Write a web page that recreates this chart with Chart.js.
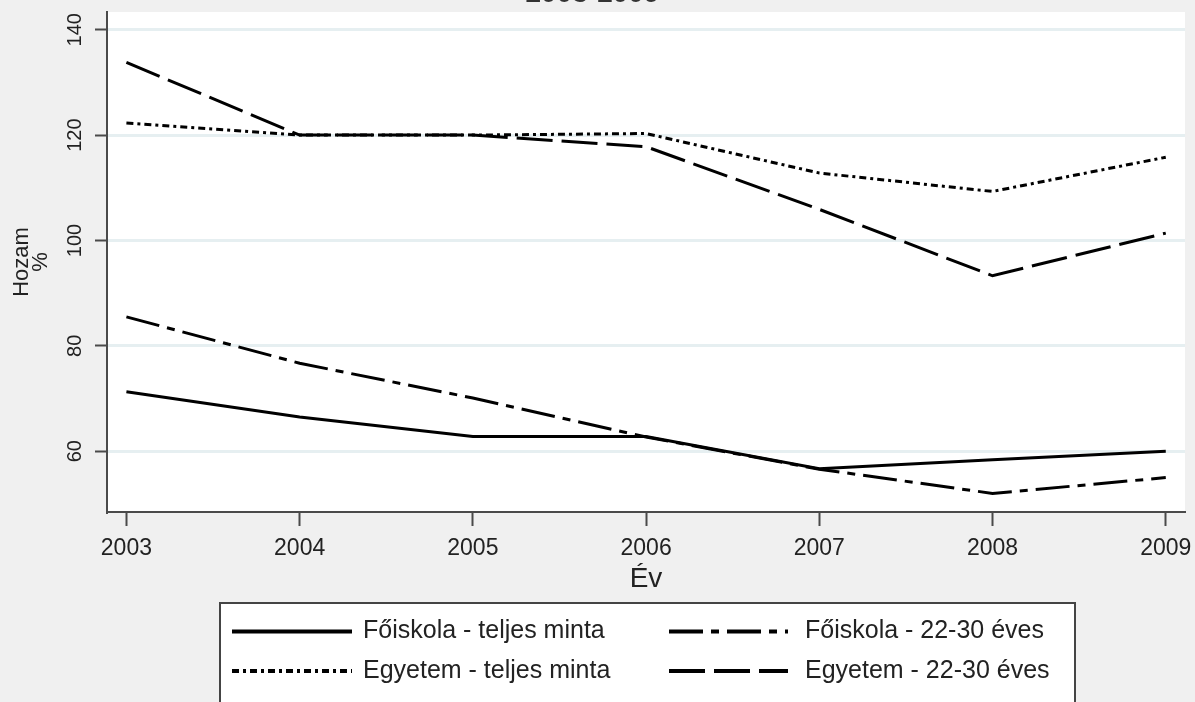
<!DOCTYPE html>
<html><head><meta charset="utf-8">
<script src="https://cdn.jsdelivr.net/npm/chart.js@4.4.1/dist/chart.umd.min.js"></script>
<style>
html,body{margin:0;padding:0;background:#f0f0f0;overflow:hidden;width:1195px;height:702px;}
#wrap{position:absolute;left:0;top:-24px;width:1195px;height:750px;}
</style></head><body>
<div id="wrap"><canvas id="c" width="1195" height="750"></canvas></div>
<script>
const titleText = '2003-2009';
const xTitle = 'Év';
const yTitle = ['Hozam', '%'];
const years = [2003, 2004, 2005, 2006, 2007, 2008, 2009];
const yTicks = [60, 80, 100, 120, 140];
const seriesNames = ['Főiskola - teljes minta', 'Főiskola - 22-30 éves', 'Egyetem - teljes minta', 'Egyetem - 22-30 éves'];
const foiskolaTeljes = [71.3, 66.5, 62.8, 62.8, 56.7, 58.4, 60.0];
const foiskola2230   = [85.5, 76.7, 70.1, 62.7, 56.6, 52.0, 55.0];
const egyetemTeljes  = [122.3, 120.0, 120.0, 120.3, 112.8, 109.3, 115.8];
const egyetem2230    = [133.8, 120.0, 120.0, 117.8, 105.9, 93.3, 101.4];

const seriesValues = [foiskolaTeljes, foiskola2230, egyetemTeljes, egyetem2230];
const dashes = [[], [34, 8, 8, 8], [7, 4, 3, 4], [36, 9]];

const FONT = "'Liberation Sans', Arial, sans-serif";

const plotBg = {
  id: 'plotBg',
  beforeDraw(chart) {
    const {ctx, chartArea: a} = chart;
    ctx.save();
    ctx.fillStyle = '#ffffff';
    ctx.fillRect(a.left, a.top, a.right - a.left, a.bottom - a.top);
    ctx.restore();
  }
};

const boxLegend = {
  id: 'boxLegend',
  afterDraw(chart) {
    const ctx = chart.ctx;
    const top = 627, left = 220, right = 1075, bottom = 760;
    ctx.save();
    ctx.fillStyle = '#ffffff';
    ctx.fillRect(left, top, right - left, bottom - top);
    ctx.strokeStyle = '#444';
    ctx.lineWidth = 2;
    ctx.strokeRect(left, top, right - left, bottom - top);
    const rows = [655.5, 695];
    const sx = [[232, 352], [669, 788]];
    const tx = [363, 805];
    chart.data.datasets.forEach((ds, i) => {
      const col = i % 2, row = Math.floor(i / 2);
      const y = rows[row];
      ctx.beginPath();
      ctx.setLineDash(ds.borderDash || []);
      ctx.lineWidth = 4;
      ctx.strokeStyle = '#000';
      ctx.moveTo(sx[col][0], y);
      ctx.lineTo(sx[col][1], y);
      ctx.stroke();
      ctx.setLineDash([]);
      ctx.fillStyle = '#222';
      ctx.font = '25px ' + FONT;
      ctx.textBaseline = 'middle';
      ctx.textAlign = 'left';
      ctx.fillText(ds.label, tx[col], y);
    });
    ctx.restore();
  }
};

const datasets = seriesNames.map((name, i) => ({
  label: name,
  data: years.map((yr, j) => ({x: yr, y: seriesValues[i][j]})),
  borderColor: '#000',
  borderWidth: 3,
  borderDash: dashes[i],
  pointRadius: 0,
  tension: 0,
  fill: false
}));

new Chart(document.getElementById('c'), {
  type: 'line',
  data: {datasets},
  options: {
    responsive: false,
    animation: false,
    layout: {padding: {top: 0, left: 0, right: 10, bottom: 130}},
    plugins: {
      legend: {display: false},
      tooltip: {enabled: false},
      title: {
        display: true, text: titleText, color: '#333',
        font: {family: FONT, size: 28, weight: 'bold'},
        padding: {top: 1, bottom: 1.4}
      }
    },
    scales: {
      x: {
        type: 'linear', min: 2002.888, max: 2009.111,
        afterBuildTicks: s => { s.ticks = years.map(v => ({value: v})); },
        afterFit: s => { s.height = 84; s.paddingLeft = 0; s.paddingRight = 0; },
        border: {display: true, color: '#4a4a4a', width: 2},
        grid: {display: true, drawOnChartArea: false, drawTicks: true, tickLength: 14, tickColor: '#4a4a4a', tickWidth: 2},
        ticks: {color: '#222', font: {family: FONT, size: 23}, padding: 9, maxRotation: 0, autoSkip: false,
                callback: v => String(v)},
        title: {display: true, text: xTitle, color: '#222', font: {family: FONT, size: 28}, padding: {top: 0, bottom: 0}}
      },
      y: {
        type: 'linear', min: 48.47, max: 143.36,
        afterBuildTicks: s => { s.ticks = yTicks.map(v => ({value: v})); },
        afterFit: s => { s.width = 107; },
        border: {display: true, color: '#4a4a4a', width: 2},
        grid: {display: true, drawOnChartArea: true, color: '#e6eff1', lineWidth: 3, drawTicks: true, tickLength: 12, tickColor: '#4a4a4a', tickWidth: 2},
        ticks: {color: '#222', font: {family: FONT, size: 20}, padding: 3, minRotation: 90, maxRotation: 90, crossAlign: 'center', autoSkip: false,
                callback: v => String(v)},
        title: {display: true, text: yTitle, color: '#222', font: {family: FONT, size: 22, lineHeight: 0.85}, padding: {top: 13, bottom: 0}}
      }
    }
  },
  plugins: [plotBg, boxLegend]
});
</script>
</body></html>
